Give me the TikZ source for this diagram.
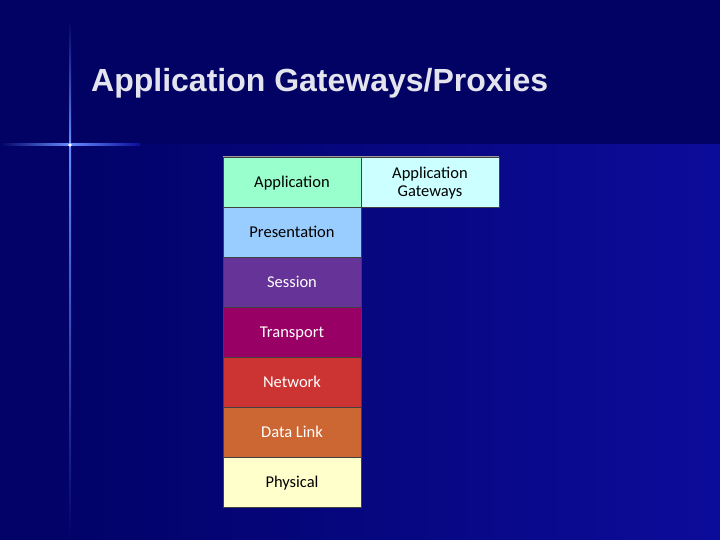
\documentclass[tikz,border=0pt]{standalone}
\usepackage{fontspec}
\setmainfont{Liberation Sans}
\newfontfamily\layerfont{Carlito}
\usetikzlibrary{positioning}
\definecolor{slidetop}{RGB}{2,2,100}
\definecolor{slidelow}{RGB}{12,12,155}
\definecolor{slidedark}{RGB}{2,2,105}
\definecolor{flare}{RGB}{100,140,255}
\definecolor{titlegrey}{RGB}{228,228,238}
\definecolor{appcol}{RGB}{153,255,204}
\definecolor{prescol}{RGB}{153,204,255}
\definecolor{sesscol}{RGB}{102,51,153}
\definecolor{transcol}{RGB}{153,0,102}
\definecolor{netcol}{RGB}{204,51,51}
\definecolor{linkcol}{RGB}{204,102,51}
\definecolor{physcol}{RGB}{255,255,204}
\definecolor{gwcol}{RGB}{204,255,255}

\begin{document}
\begin{tikzpicture}[
  x=1pt, y=-1pt,
  layer/.style={draw=black!75, line width=0.8pt, minimum width=138pt, minimum height=50pt,
    inner sep=0pt, outer sep=0pt, text depth=0pt, font=\layerfont\fontsize{16.5}{18}\selectfont},
  darklayer/.style={layer, text=white},
  node distance=0pt
]
% slide background
\fill[slidetop] (0,0) rectangle (720,540);
\shade[left color=slidedark, right color=slidelow] (70,145) rectangle (720,540);
\fill[slidedark] (0,145) rectangle (70,540);
% flare
\shade[top color=slidetop, bottom color=flare] (69,20) rectangle (71,145);
\shade[top color=flare, bottom color=slidedark] (69,145) rectangle (71,540);
\shade[left color=slidetop, right color=flare] (0,144) rectangle (70,146);
\shade[left color=flare, right color=slidelow] (70,144) rectangle (140,146);
\fill[white] (70,145) circle (1.8);

\node[anchor=base west, inner sep=0pt, font=\bfseries\fontsize{32}{36}\selectfont, text=titlegrey] (title) at (91,92) {Application Gateways/Proxies};

% OSI stack
\node[layer, fill=appcol, anchor=north west] (app) at (223,157) {Application};
\node[layer, fill=prescol, below=of app] (pres) {Presentation};
\node[darklayer, fill=sesscol, below=of pres] (sess) {Session};
\node[darklayer, fill=transcol, below=of sess] (trans) {Transport};
\node[darklayer, fill=netcol, below=of trans] (net) {Network};
\node[darklayer, fill=linkcol, below=of net] (link) {Data Link};
\node[layer, fill=physcol, below=of link] (phys) {Physical};
\node[layer, fill=gwcol, right=of app, align=center] (gw) {Application\\Gateways};
\draw[black!40, line width=1pt] (app.north west) -- (gw.north east);
\end{tikzpicture}
\end{document}
